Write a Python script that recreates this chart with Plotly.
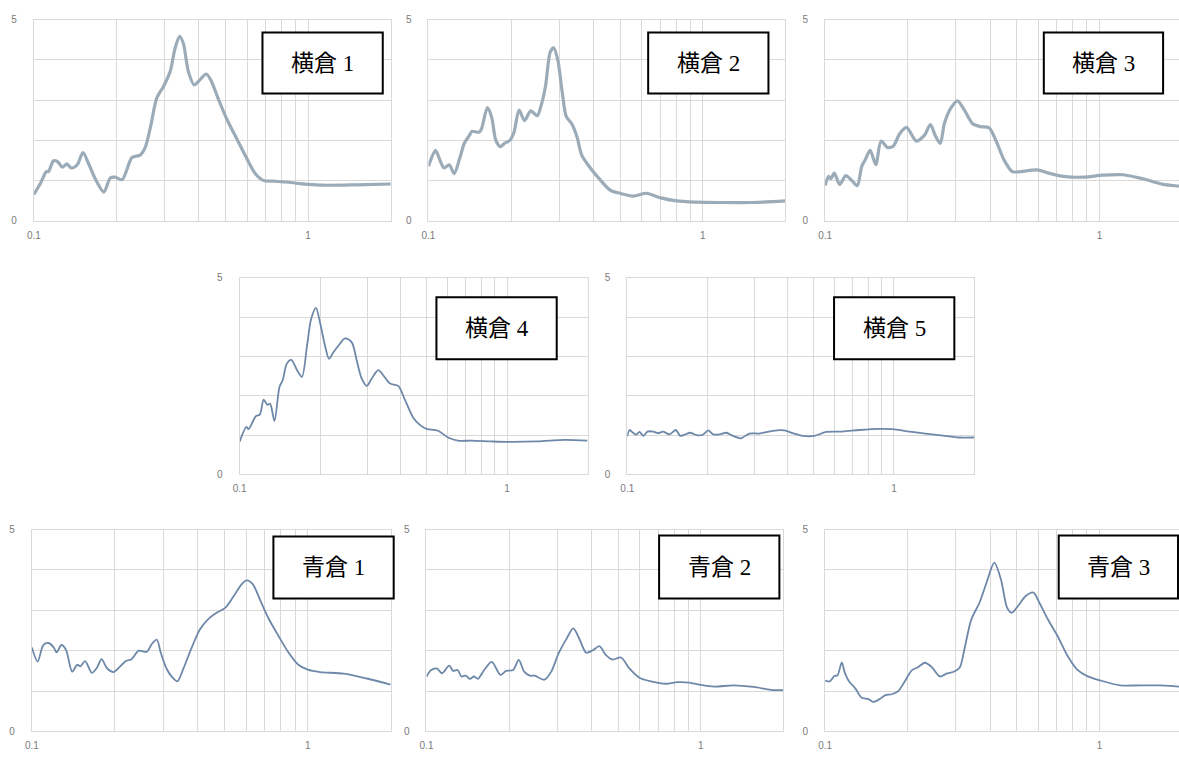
import math
import plotly.graph_objects as go

# ---- spectral data: period (s) vs amplitude, one series per site ----
yoko1_t = [0.100,0.106,0.111,0.113,0.118,0.122,0.127,0.132,0.137,0.144,0.151,0.159,0.168,0.180,0.190,
           0.198,0.210,0.228,0.244,0.255,0.266,0.281,0.297,0.314,0.327,0.340,0.351,0.366,0.384,0.404,
           0.425,0.441,0.471,0.505,0.549,0.597,0.640,0.686,0.746,0.834,0.933,1.0,1.13,1.50,2.0]
yoko1_v = [0.65,0.94,1.22,1.22,1.49,1.47,1.33,1.41,1.31,1.39,1.69,1.39,1.02,0.71,1.06,
           1.08,1.02,1.57,1.63,1.83,2.32,3.06,3.34,3.71,4.28,4.59,4.40,3.71,3.38,3.51,
           3.65,3.51,3.02,2.53,2.04,1.55,1.18,1.00,0.98,0.96,0.92,0.90,0.88,0.89,0.91]

yoko2_t = [0.100,0.106,0.110,0.114,0.119,0.124,0.130,0.135,0.141,0.144,0.153,0.156,0.164,0.170,0.176,
           0.183,0.189,0.198,0.205,0.214,0.224,0.236,0.249,0.257,0.267,0.278,0.286,0.296,0.307,0.318,
           0.333,0.348,0.362,0.389,0.422,0.459,0.499,0.558,0.623,0.697,0.801,0.946,1.15,1.52,2.0]
yoko2_v = [1.35,1.75,1.51,1.31,1.39,1.17,1.55,1.92,2.12,2.22,2.20,2.28,2.81,2.57,2.00,
           1.84,1.92,2.00,2.20,2.75,2.49,2.73,2.61,2.85,3.34,4.20,4.30,4.00,3.22,2.59,
           2.41,2.08,1.63,1.31,1.02,0.76,0.68,0.61,0.68,0.57,0.49,0.46,0.45,0.45,0.49]

yoko3_t = [0.100,0.103,0.105,0.108,0.113,0.119,0.125,0.131,0.136,0.140,0.146,0.153,0.160,0.169,0.177,
           0.187,0.198,0.215,0.230,0.242,0.252,0.263,0.272,0.288,0.304,0.322,0.345,0.369,0.396,0.419,
           0.449,0.481,0.516,0.593,0.663,0.741,0.875,1.03,1.22,1.44,1.71,1.94,2.0]
yoko3_v = [0.87,1.10,1.04,1.18,0.90,1.12,1.00,0.87,1.35,1.51,1.75,1.39,1.98,1.82,1.85,
           2.16,2.32,1.98,2.12,2.39,2.12,1.92,2.41,2.81,2.98,2.75,2.41,2.34,2.31,2.00,
           1.51,1.22,1.22,1.26,1.17,1.10,1.08,1.13,1.14,1.04,0.90,0.86,0.85]

yoko4_t = [0.100,0.106,0.108,0.115,0.119,0.123,0.127,0.130,0.135,0.141,0.145,0.150,0.156,0.164,0.171,
           0.179,0.185,0.193,0.200,0.208,0.216,0.224,0.234,0.248,0.263,0.274,0.286,0.299,0.312,0.330,
           0.348,0.365,0.392,0.415,0.446,0.472,0.500,0.552,0.602,0.655,0.735,0.872,1.0,1.30,1.64,2.0]
yoko4_v = [0.83,1.21,1.15,1.48,1.52,1.90,1.77,1.80,1.36,2.23,2.40,2.81,2.91,2.65,2.48,
           3.31,3.94,4.23,3.85,3.31,2.94,3.10,3.27,3.46,3.35,2.90,2.44,2.25,2.44,2.65,
           2.48,2.31,2.25,1.90,1.44,1.26,1.16,1.11,0.94,0.86,0.86,0.84,0.83,0.84,0.88,0.86]

yoko5_t = [0.100,0.102,0.105,0.108,0.111,0.115,0.119,0.125,0.131,0.136,0.144,0.152,0.158,0.164,0.172,
           0.182,0.192,0.201,0.210,0.222,0.235,0.249,0.267,0.287,0.313,0.351,0.388,0.417,0.455,0.503,
           0.556,0.641,0.740,0.879,0.986,1.17,1.47,1.75,2.0]
yoko5_v = [0.97,1.13,1.06,1.01,1.08,0.98,1.09,1.09,1.05,1.09,1.02,1.13,0.98,1.01,1.06,
           1.00,1.01,1.12,1.02,1.02,1.06,0.98,0.92,1.04,1.04,1.11,1.12,1.05,0.98,0.98,
           1.08,1.09,1.13,1.16,1.15,1.08,1.00,0.94,0.94]

ao1_t = [0.100,0.105,0.110,0.115,0.120,0.123,0.128,0.133,0.140,0.146,0.150,0.156,0.165,0.172,0.179,
         0.187,0.198,0.209,0.220,0.230,0.244,0.261,0.272,0.284,0.293,0.307,0.322,0.337,0.354,0.380,
         0.407,0.437,0.468,0.502,0.538,0.577,0.601,0.632,0.672,0.720,0.783,0.851,0.925,1.0,1.11,
         1.35,1.64,2.0]
ao1_v = [2.08,1.73,2.14,2.19,2.08,1.96,2.14,2.02,1.48,1.65,1.61,1.74,1.45,1.57,1.79,
         1.57,1.47,1.61,1.75,1.79,2.00,1.97,2.16,2.27,1.96,1.57,1.35,1.24,1.55,2.08,
         2.53,2.79,2.94,3.06,3.34,3.65,3.74,3.65,3.26,2.81,2.37,1.96,1.65,1.53,1.47,
         1.43,1.31,1.16]

ao2_t = [0.100,0.104,0.109,0.114,0.121,0.125,0.130,0.134,0.139,0.144,0.149,0.154,0.163,0.173,0.186,
         0.195,0.207,0.217,0.227,0.238,0.248,0.269,0.285,0.303,0.323,0.343,0.361,0.382,0.404,0.427,
         0.451,0.477,0.512,0.549,0.597,0.658,0.746,0.823,0.907,1.0,1.12,1.32,1.56,1.80,2.0]
ao2_v = [1.36,1.52,1.56,1.44,1.63,1.50,1.52,1.36,1.38,1.30,1.36,1.30,1.54,1.72,1.40,
         1.50,1.52,1.77,1.48,1.38,1.38,1.28,1.48,1.93,2.28,2.55,2.29,1.95,2.01,2.11,
         1.89,1.78,1.83,1.56,1.33,1.24,1.18,1.22,1.21,1.15,1.11,1.14,1.10,1.03,1.02]

ao3_t = [0.100,0.104,0.108,0.111,0.115,0.118,0.122,0.129,0.136,0.144,0.150,0.158,0.166,0.175,0.185,
         0.196,0.207,0.218,0.231,0.245,0.262,0.277,0.297,0.310,0.323,0.341,0.366,0.387,0.414,0.438,
         0.461,0.479,0.504,0.540,0.575,0.603,0.647,0.703,0.764,0.830,0.903,1.01,1.19,1.41,1.66,
         1.95,2.0]
ao3_v = [1.26,1.24,1.37,1.39,1.71,1.45,1.25,1.06,0.83,0.80,0.73,0.80,0.90,0.92,1.00,
         1.26,1.51,1.59,1.70,1.59,1.36,1.43,1.49,1.59,2.08,2.77,3.20,3.67,4.18,3.75,
         3.06,2.94,3.10,3.36,3.44,3.20,2.79,2.37,1.88,1.53,1.37,1.26,1.14,1.14,1.14,
         1.11,1.10]

site_names = ["横倉 1", "横倉 2", "横倉 3", "横倉 4", "横倉 5", "青倉 1", "青倉 2", "青倉 3"]
periods = [yoko1_t, yoko2_t, yoko3_t, yoko4_t, yoko5_t, ao1_t, ao2_t, ao3_t]
amps = [yoko1_v, yoko2_v, yoko3_v, yoko4_v, yoko5_v, ao1_v, ao2_v, ao3_v]

x_tick_vals = [0.1, 0.2, 0.3, 0.4, 0.5, 0.6, 0.7, 0.8, 0.9, 1, 2]
x_tick_text = ["0.1", "", "", "", "", "", "", "", "", "1", ""]
y_tick_vals = [0, 1, 2, 3, 4, 5]
y_tick_text = ["0", "", "", "", "", "5"]

# ---- page layout (pixels) ----
W, H = 1179, 760
# (left, right, top, bottom) of each plot area, label box (left, top, right, bottom)
panels = [
    ((27, 386, 14, 218), (257, 27, 378, 89)),
    ((424, 783, 14, 218), (645, 27, 766, 89)),
    ((823, 1182, 14, 218), (1043, 27, 1163, 89)),
    ((234, 584, 276, 476), (432, 296, 553, 359)),
    ((624, 973, 276, 476), (832, 296, 953, 359)),
    ((25, 386, 532, 737), (268, 539, 389, 602)),
    ((422, 781, 532, 737), (656, 538, 777, 602)),
    ((823, 1182, 532, 737), (1058, 538, 1178, 602)),
]

top_color = "#9babb8"
low_color = "#6d88a8"
grid_color = "#d9d9d9"

fig = go.Figure()
shapes = []
annotations = []

for i, ((l, r, t, b), box) in enumerate(panels):
    n = "" if i == 0 else str(i + 1)
    # clip plot areas that run past the page edge
    r_vis = min(r, W)
    log_lo = math.log10(0.1)
    log_hi = math.log10(2.0)
    log_end = log_lo + (log_hi - log_lo) * (r_vis - l) / (r - l)

    color = top_color if i < 3 else low_color
    width = 3.2 if i < 3 else 1.8
    fig.add_trace(go.Scatter(
        x=periods[i], y=amps[i], mode="lines",
        line=dict(color=color, width=width, shape="spline", smoothing=0.8),
        xaxis="x" + n, yaxis="y" + n, showlegend=False, hoverinfo="skip",
    ))

    fig.layout["xaxis" + n] = dict(
        domain=[l / W, r_vis / W], anchor="y" + n, type="log",
        range=[log_lo, log_end],
        tickvals=x_tick_vals, ticktext=x_tick_text,
        showgrid=True, gridcolor=grid_color, gridwidth=1,
        showline=True, linecolor=grid_color, linewidth=1, mirror=True,
        zeroline=False, ticks="", ticklabelstandoff=5,
        tickfont=dict(family="Liberation Sans, Arial", size=10, color="#7a7a7a"),
    )
    fig.layout["yaxis" + n] = dict(
        domain=[1 - b / H, 1 - t / H], anchor="x" + n,
        range=[0, 5],
        tickvals=y_tick_vals, ticktext=y_tick_text,
        showgrid=True, gridcolor=grid_color, gridwidth=1,
        showline=True, linecolor=grid_color, linewidth=1, mirror=(r <= W),
        zeroline=False, ticks="", ticklabelstandoff=14,
        tickfont=dict(family="Liberation Sans, Arial", size=10, color="#7a7a7a"),
    )

    bl, bt, br, bb = box
    shapes.append(dict(
        type="rect", xref="paper", yref="paper",
        x0=bl / W, x1=br / W, y0=1 - bb / H, y1=1 - bt / H,
        line=dict(color="black", width=2), fillcolor="white", layer="above",
    ))
    annotations.append(dict(
        xref="paper", yref="paper",
        x=(bl + br) / 2 / W, y=1 - (bt + bb) / 2 / H,
        xanchor="center", yanchor="middle", showarrow=False,
        text=site_names[i],
        font=dict(family="Liberation Serif, Noto Sans CJK JP", size=23, color="black"),
    ))

fig.update_layout(
    width=W, height=H,
    margin=dict(l=0, r=0, t=0, b=0),
    paper_bgcolor="white", plot_bgcolor="white",
    shapes=shapes, annotations=annotations,
    showlegend=False,
)

fig.write_html("out.html")
